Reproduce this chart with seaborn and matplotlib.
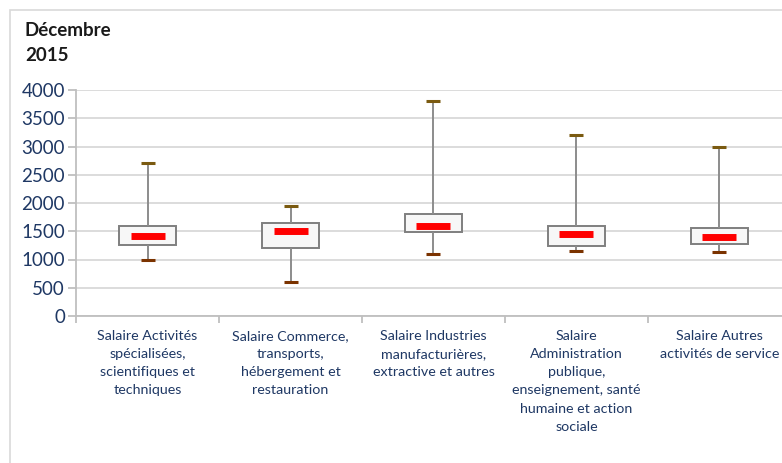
import pandas as pd
import matplotlib.pyplot as plt
import seaborn as sns
from matplotlib.patches import Rectangle

# --- données ---
secteurs = [
    "Salaire Activités\nspécialisées,\nscientifiques et\ntechniques",
    "Salaire Commerce,\ntransports,\nhébergement et\nrestauration",
    "Salaire Industries\nmanufacturières,\nextractive et autres",
    "Salaire\nAdministration\npublique,\nenseignement, santé\nhumaine et action\nsociale",
    "Salaire Autres\nactivités de service",
]
minimum = [1000, 600, 1105, 1150, 1125]
q1 = [1255, 1205, 1490, 1235, 1280]
mediane = [1410, 1500, 1600, 1450, 1400]
q3 = [1590, 1640, 1800, 1600, 1565]
maximum = [2700, 1955, 3810, 3210, 3000]

# 5 points par secteur -> quartiles exacts avec whis=(0, 100)
lignes = []
for s, a, b, c, d, e in zip(secteurs, minimum, q1, mediane, q3, maximum):
    for v in (a, b, c, d, e):
        lignes.append({"Secteur": s, "Salaire": v})
df = pd.DataFrame(lignes)
stats = pd.DataFrame({"Secteur": secteurs, "min": minimum, "med": mediane, "max": maximum})

sns.set_style("white")
plt.rcParams["font.family"] = ["Lato", "DejaVu Sans"]

fig = plt.figure(figsize=(7.82, 4.63), dpi=100)
ax = fig.add_axes([76 / 782, 147 / 463, 715 / 782, 226 / 463])

gris = "#8c8c8c"
sns.boxplot(data=df, x="Secteur", y="Salaire", ax=ax, whis=(0, 100), width=0.4,
            showcaps=False, linewidth=1.4,
            boxprops=dict(facecolor="#f7f7f7", edgecolor="#7f7f7f"),
            whiskerprops=dict(color=gris),
            medianprops=dict(visible=False))

# médiane en barre rouge épaisse
sns.scatterplot(data=stats, x="Secteur", y="med", ax=ax, marker="_", s=600,
                color="#ff0000", linewidth=5, zorder=5)
# extrémités des moustaches
sns.scatterplot(data=stats, x="Secteur", y="max", ax=ax, marker="_", s=95,
                color="#7a5a10", linewidth=2.2, zorder=5)
sns.scatterplot(data=stats, x="Secteur", y="min", ax=ax, marker="_", s=95,
                color="#7b3300", linewidth=2.2, zorder=5)

ax.set_ylim(0, 4000)
ax.set_xlim(-0.5, 4.5)
ax.set_yticks(range(0, 4001, 500))
ax.yaxis.grid(True, color="#d9d9d9", linewidth=1.3)
ax.set_axisbelow(True)
ax.set_xlabel("")
ax.set_ylabel("")

for s in ["top", "right"]:
    ax.spines[s].set_visible(False)
for s in ["left", "bottom"]:
    ax.spines[s].set_color("#bfbfbf")
    ax.spines[s].set_linewidth(1.3)

navy = "#1f3864"
ax.tick_params(axis="y", colors="#bfbfbf", labelcolor=navy, labelsize=13.5,
               length=6, width=1.3, direction="out", left=True, pad=2)
ax.tick_params(axis="x", which="major", length=0, labelsize=10.3, labelcolor=navy, pad=10)
ax.set_xticks([i - 0.5 for i in range(6)], minor=True)
ax.tick_params(axis="x", which="minor", length=5, width=1.3, colors="#bfbfbf",
               direction="out", bottom=True)
for lab in ax.get_xticklabels():
    lab.set_linespacing(1.62)

fig.text(25 / 782, 1 - 22 / 463, "Décembre\n2015", fontsize=13.5, fontweight="bold",
         color="#1a1a1a", va="top", ha="left", linespacing=1.55)

# cadre de la zone graphique
fig.patches.append(Rectangle((10 / 782, -0.01), 1.0, 1 - 10 / 463 + 0.01,
                             transform=fig.transFigure, fill=False,
                             edgecolor="#d9d9d9", linewidth=1.2))

fig.savefig("out.png", dpi=100)
